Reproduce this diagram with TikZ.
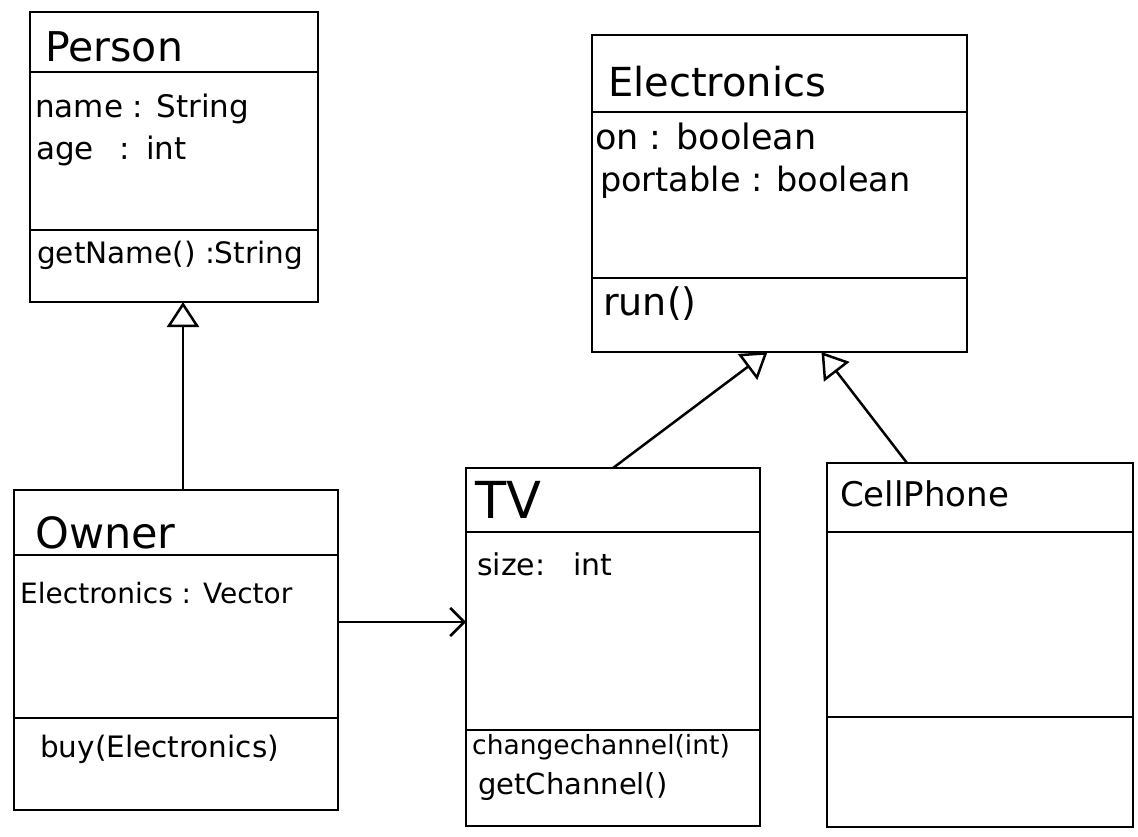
\documentclass[tikz,border=0pt]{standalone}
\usepackage{fontspec}
\setmainfont{DejaVu Sans}
\usetikzlibrary{arrows.meta,calc}
\begin{document}
\begin{tikzpicture}[x=1pt,y=-1pt,
  cls/.style={draw,line width=2.8pt,inner sep=0pt,outer sep=0pt,rectangle},
  divline/.style={line width=2.8pt},
  ttl/.style={anchor=base west,inner sep=0pt,font=\fontsize{41}{43}\selectfont},
  attr/.style={anchor=base west,inner sep=0pt,font=\fontsize{31}{33}\selectfont},
  sattr/.style={anchor=base west,inner sep=0pt,font=\fontsize{28}{30}\selectfont},
  gen/.style={line width=2.5pt,-{Triangle[open,length=25pt,width=32pt,line width=2.5pt]}},
  assoc/.style={line width=2.5pt,-{Straight Barb[length=14pt,width=28pt,line width=2.5pt]}}]
\useasboundingbox (0,0) rectangle (1138,837);
% Person
\node[cls,minimum width=288pt,minimum height=290pt] (person) at (174,157) {};
\draw[divline] (30,72) -- (318,72);
\draw[divline] (30,230) -- (318,230);
\node[ttl] (pt) at (45,62) {Person};
\node[attr] (pa1) at (35,118) {name : String};
\node[attr] (pa2) at (36,160) {age\hspace{26pt}:\hspace{16pt}int};
\node[attr,font=\fontsize{29.5}{31}\selectfont] (pm1) at (37,264) {getName() :String};
% Electronics
\node[cls,minimum width=375pt,minimum height=317pt] (elec) at (779.5,193.5) {};
\draw[divline] (592,112) -- (967,112);
\draw[divline] (592,278) -- (967,278);
\node[ttl,font=\fontsize{40}{42}\selectfont] (et) at (608,97) {Electronics};
\node[attr,font=\fontsize{35}{37}\selectfont] (ea1) at (595,150) {on : boolean};
\node[attr,font=\fontsize{33.5}{35}\selectfont] (ea2) at (600,192) {portable : boolean};
\node[attr,font=\fontsize{38}{40}\selectfont] (em1) at (603,315) {run()};
% Owner
\node[cls,minimum width=324pt,minimum height=320pt] (owner) at (176,650) {};
\draw[divline] (14,555) -- (338,555);
\draw[divline] (14,718) -- (338,718);
\node[ttl,font=\fontsize{43}{45}\selectfont] (ot) at (35,548) {Owner};
\node[sattr] (oa1) at (20,603) {Electronics : Vector};
\node[sattr,font=\fontsize{29.5}{31}\selectfont] (om1) at (40,757) {buy(Electronics)};
% TV
\node[cls,minimum width=294pt,minimum height=358pt] (tv) at (613,647) {};
\draw[divline] (466,532) -- (760,532);
\draw[divline] (466,730) -- (760,730);
\node[ttl,font=\fontsize{51}{53}\selectfont] (tt) at (475,518) {TV};
\node[attr,font=\fontsize{30}{32}\selectfont] (ta1) at (477,575) {size:\hspace{28pt}int};
\node[sattr,font=\fontsize{26.5}{28}\selectfont] (tm1) at (472,754) {changechannel(int)};
\node[sattr,font=\fontsize{29}{31}\selectfont] (tm2) at (478,794) {getChannel()};
% CellPhone
\node[cls,minimum width=306pt,minimum height=364pt] (cell) at (980,645) {};
\draw[divline] (827,532) -- (1133,532);
\draw[divline] (827,717) -- (1133,717);
\node[ttl,font=\fontsize{34}{36}\selectfont] (ct) at (840,506) {CellPhone};
% connectors
\draw[gen] ([xshift=7pt]owner.north) -- ([xshift=7pt]owner.north |- person.south);
\draw[gen] (tv.north) -- ([xshift=-12pt]elec.south);
\draw[gen] ([xshift=-73pt]cell.north) -- ([xshift=42pt]elec.south);
\draw[assoc] ([yshift=28pt]owner.east) -- ([yshift=28pt]owner.east -| tv.west);
\end{tikzpicture}
\end{document}
